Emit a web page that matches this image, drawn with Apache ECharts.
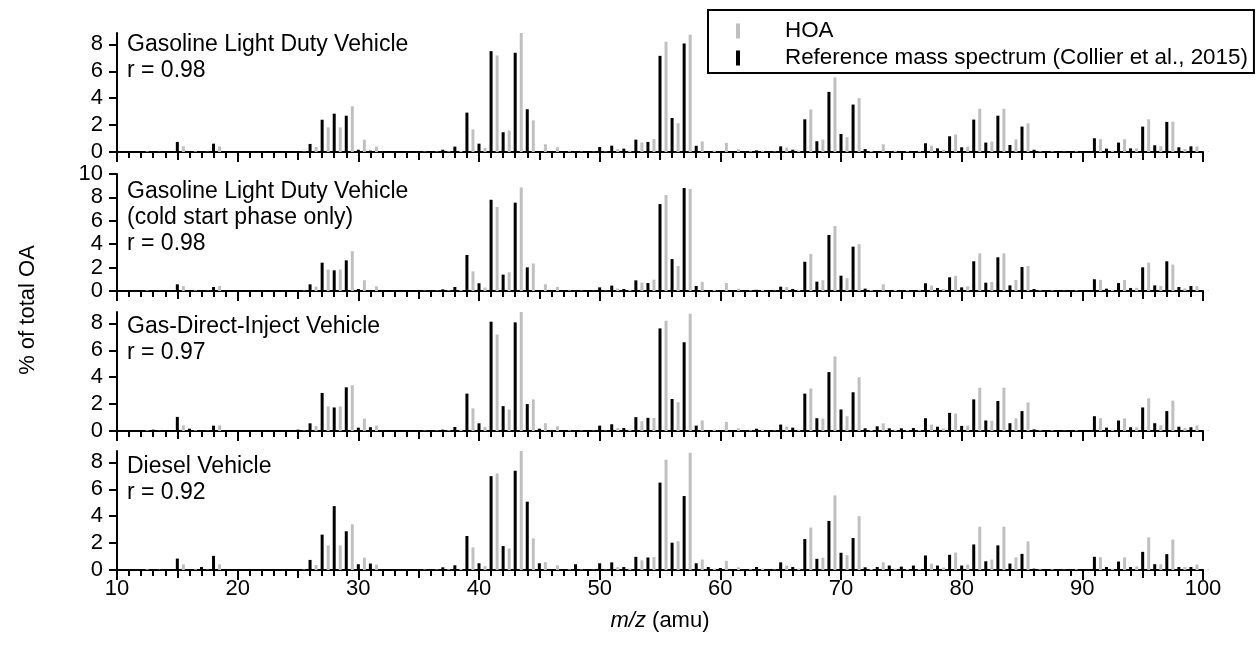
<!DOCTYPE html>
<html><head><meta charset="utf-8">
<script src="https://cdn.jsdelivr.net/npm/echarts@6/dist/echarts.min.js"></script>
<style>html,body{margin:0;padding:0;background:#fff}#c{width:1256px;height:645px}</style>
</head><body><div id="c"></div>
<script>
// m/z values (amu)
const mz = [10,11,12,13,14,15,16,17,18,19,20,21,22,23,24,25,26,27,28,29,30,31,32,33,34,35,36,37,38,39,
40,41,42,43,44,45,46,47,48,49,50,51,52,53,54,55,56,57,58,59,60,61,62,63,64,65,66,67,68,69,
70,71,72,73,74,75,76,77,78,79,80,81,82,83,84,85,86,87,88,89,90,91,92,93,94,95,96,97,98,99,100];

// HOA factor profile (% of total OA)
const hoa = [0,0,0.05,0.02,0,0.42,0.05,0.02,0.42,0,
0,0,0,0,0,0.03,0.37,1.83,1.83,3.4,
0.92,0.4,0,0,0,0.03,0.03,0.05,0.08,1.68,
0.3,7.18,1.6,8.85,2.35,0.58,0.35,0.05,0.03,0.02,
0.03,0.21,0.1,0.72,0.97,8.2,2.14,8.72,0.78,0.1,
0.68,0.2,0.05,0.1,0.03,0.33,0.1,3.16,0.92,5.55,
1.1,4.0,0.08,0.57,0.1,0.07,0.07,0.47,0.18,1.3,
0.4,3.22,0.77,3.22,0.94,2.13,0.05,0.05,0.02,0.05,
0,0.95,0.1,0.94,0.27,2.43,0.43,2.26,0.22,0.41,
0.05];

// Reference mass spectra (Collier et al., 2015)
const refGasLDV = [0,0,0,0.05,0,0.75,0,0.05,0.62,0,
0,0,0,0,0,0.05,0.6,2.4,2.85,2.7,
0.17,0.1,0,0,0,0,0,0.17,0.4,2.93,
0.62,7.5,1.47,7.38,3.18,0,0,0,0,0,
0.37,0.47,0.25,0.92,0.75,7.15,2.53,8.07,0.46,0.03,
0.02,0.03,0,0.12,0,0.42,0.17,2.43,0.8,4.47,
1.34,3.53,0.22,0.03,0,0,0.05,0.65,0.27,1.17,
0.35,2.41,0.7,2.7,0.52,1.89,0.17,0,0,0,
0,1.02,0.25,0.7,0.27,1.89,0.5,2.24,0.35,0.42,
0];
const refGasLDVCold = [0,0,0,0,0,0.57,0,0,0.34,0,
0,0,0,0,0,0,0.57,2.42,1.77,2.62,
0.17,0.05,0,0,0,0,0,0.14,0.34,3.08,
0.66,7.8,1.4,7.55,2.02,0,0,0,0,0,
0.31,0.46,0.17,0.91,0.68,7.43,2.73,8.8,0.43,0,
0,0,0,0.1,0,0.37,0.17,2.5,0.8,4.79,
1.31,3.79,0.2,0,0,0,0.03,0.66,0.26,1.17,
0.31,2.54,0.71,2.88,0.48,2.05,0.17,0,0,0,
0,1.0,0.2,0.68,0.26,2.02,0.48,2.54,0.34,0.43,
0];
const refGDI = [0,0,0,0.1,0,1.05,0.17,0.03,0.4,0,
0,0,0,0,0,0.1,0.57,2.83,1.75,3.25,
0.25,0.28,0,0,0,0,0,0.1,0.3,2.78,
0.57,8.13,1.85,8.08,2.0,0.17,0.03,0,0,0,
0.4,0.5,0.22,1.03,0.98,7.63,2.38,6.6,0.4,0.05,
0,0.03,0.03,0.17,0.03,0.48,0.25,2.78,0.95,4.38,
1.6,2.88,0.2,0.35,0.2,0.2,0.22,0.95,0.32,1.35,
0.38,2.35,0.78,2.23,0.58,1.48,0.12,0.03,0,0.03,
0,1.1,0.25,0.78,0.28,1.75,0.58,1.48,0.32,0.28,
0];
const refDiesel = [0,0,0,0.05,0,0.85,0,0.22,1.05,0,
0,0,0,0,0,0.05,0.75,2.63,4.75,2.88,
0.43,0.48,0,0,0,0,0,0.2,0.35,2.53,
0.5,6.98,1.78,7.38,5.08,0.5,0.05,0,0.43,0,
0.5,0.57,0.22,0.98,0.93,6.5,2.03,5.5,0.5,0.22,
0.15,0.05,0.05,0.22,0.05,0.57,0.22,2.3,0.83,3.65,
1.28,2.38,0.2,0.22,0.33,0.25,0.33,1.08,0.33,1.13,
0.33,1.9,0.65,1.83,0.48,1.2,0.1,0.05,0,0.05,
0,0.98,0.22,0.63,0.22,1.35,0.43,1.18,0.22,0.22,
0];

const panelNames = ['Gasoline Light Duty Vehicle', 'Gasoline Light Duty Vehicle\n(cold start phase only)', 'Gas-Direct-Inject Vehicle', 'Diesel Vehicle'];
const rValues = ['0.98', '0.98', '0.97', '0.92'];
const refSpectra = [refGasLDV, refGasLDVCold, refGDI, refDiesel];
const yMaxes = [8.85, 10, 8.85, 8.85];
const yTickSets = [[0,2,4,6,8],[0,2,4,6,8,10],[0,2,4,6,8],[0,2,4,6,8]];
const xTickLabels = [10,20,30,40,50,60,70,80,90,100];
const seriesNames = ['HOA', 'Reference mass spectrum (Collier et al., 2015)'];

const FONT = "'Liberation Sans', Arial, Helvetica, sans-serif";
const gridTops = [33, 174, 312, 451];
const gridHeights = [119, 117, 119, 119];
const titleTops = [32, 179, 314, 454];
const GRAY = '#c0c0c0';

const grids = [], xAxes = [], yAxes = [], series = [], titles = [];
const line = {color:'#000', width:2};
for (let i = 0; i < 4; i++) {
  grids.push({left:117, right:53, top:gridTops[i], height:gridHeights[i]});
  xAxes.push({
    gridIndex:i, type:'value', min:10, max:100, interval:10,
    axisLine:{show:true, onZero:false, lineStyle:line},
    axisTick:{show:true, length:10, lineStyle:line},
    minorTick:{show:true, splitNumber:10, length:6, lineStyle:line},
    splitLine:{show:false},
    axisLabel:{show:i===3, color:'#000', fontSize:22, fontFamily:FONT, margin:8,
      customValues: xTickLabels},
    name: i===3 ? '{i|m/z} (amu)' : '',
    nameLocation:'middle', nameGap:40,
    nameTextStyle:{color:'#000', fontSize:22, fontFamily:FONT,
      rich:{i:{fontStyle:'italic', fontSize:22, fontFamily:FONT, color:'#000'}}}
  });
  xAxes.push({
    gridIndex:i, type:'value', min:10, max:100, interval:5, position:'bottom',
    axisLine:{show:false}, axisTick:{show:true, length:8, lineStyle:line},
    axisLabel:{show:false}, splitLine:{show:false}
  });
  yAxes.push({
    gridIndex:i, type:'value', min:0, max:yMaxes[i],
    axisLine:{show:true, onZero:false, lineStyle:line},
    axisTick:{show:true, length:8, customValues:yTickSets[i], lineStyle:line},
    axisLabel:{color:'#000', fontSize:22, fontFamily:FONT, margin:14, customValues:yTickSets[i]},
    splitLine:{show:false}
  });
  series.push({
    name: seriesNames[0], type:'bar', xAxisIndex:2*i, yAxisIndex:i,
    barWidth:3, barGap:'-100%', itemStyle:{color:GRAY}, silent:true,
    data: mz.map((m, k) => [m + 0.5, hoa[k]])
  });
  series.push({
    name: seriesNames[1], type:'bar', xAxisIndex:2*i, yAxisIndex:i,
    barWidth:3, barGap:'-100%', itemStyle:{color:'#000'}, silent:true,
    data: mz.map((m, k) => [m, refSpectra[i][k]])
  });
  titles.push({
    text: panelNames[i] + '\nr = ' + rValues[i], left:127, top:titleTops[i], padding:0,
    textStyle:{fontSize:23, fontWeight:'normal', color:'#000', fontFamily:FONT, lineHeight:26}
  });
}

const chart = echarts.init(document.getElementById('c'), null, {renderer:'canvas'});
chart.setOption({
  animation:false,
  backgroundColor:'#fff',
  title: titles,
  grid: grids, xAxis: xAxes, yAxis: yAxes, series: series,
  legend: {
    data: seriesNames, left:708, top:10, orient:'vertical',
    icon:'rect', itemWidth:4, itemHeight:15, itemGap:5,
    padding:[10, 6, 4, 28],
    borderColor:'#000', borderWidth:2,
    textStyle:{fontSize:22.4, color:'#000', fontFamily:FONT, padding:[0,0,0,40]}
  },
  graphic: [{
    type:'text', x:28, y:310, rotation:Math.PI/2,
    style:{text:'% of total OA', fontSize:22, fontFamily:FONT, fill:'#000', align:'center', verticalAlign:'middle'}
  }]
});
</script></body></html>
